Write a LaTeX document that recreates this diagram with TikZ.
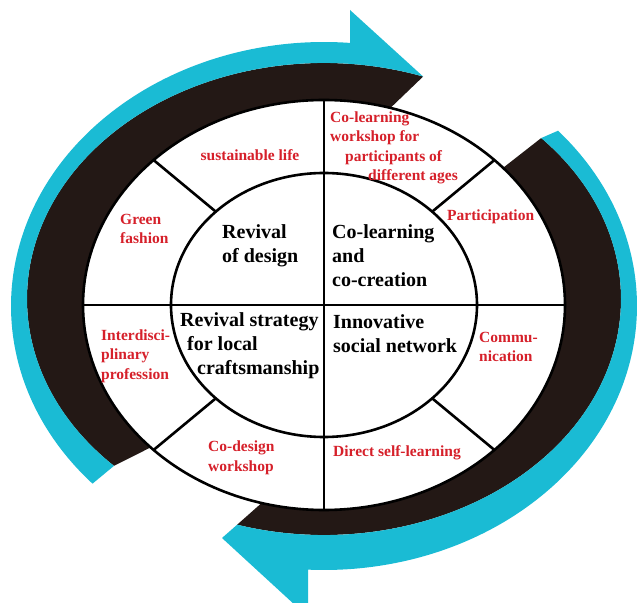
\documentclass[tikz,border=0pt]{standalone}
\usepackage{fontspec}
\setmainfont{Liberation Serif}
\definecolor{bandblack}{RGB}{35,24,21}
\definecolor{bandcyan}{RGB}{26,187,212}
\definecolor{labelred}{RGB}{214,32,42}
\tikzset{
  ring/.style={line width=2.6pt, draw=black},
  spoke/.style={line width=2.6pt, draw=black},
  maintext/.style={font=\bfseries\fontsize{20}{24}\selectfont, align=left, anchor=west, inner sep=0pt, text=black},
  subtext/.style={font=\bfseries\fontsize{15.5}{19.5}\selectfont, align=left, anchor=west, inner sep=0pt, text=labelred},
}
\begin{document}
\begin{tikzpicture}[x=1pt,y=1pt]
\path[use as bounding box] (0,0) rectangle (641,603);
\clip (0,0) rectangle (641,603);

% ---- left arrow: black band and cyan rim with head at the top ----
\fill[bandblack]
  ([shift={(324,298)}]224:241 and 205) -- ([shift={(324,304)}]225:297 and 236)
  arc[start angle=225, end angle=70.5, x radius=297, y radius=236]
  -- ([shift={(324,298)}]74:241 and 205)
  arc[start angle=74, end angle=224, x radius=241, y radius=205] -- cycle;
\fill[bandcyan]
  ([shift={(324,304)}]225:297 and 236) -- ([shift={(324,297)}]222.3:313 and 264)
  arc[start angle=222.3, end angle=85.2, x radius=313, y radius=264]
  -- (350,593) -- ([shift={(324,304)}]70.5:297 and 236)
  arc[start angle=70.5, end angle=225, x radius=297, y radius=236] -- cycle;

% ---- right arrow: black band and cyan rim with head at the bottom ----
\fill[bandblack]
  ([shift={(324,298)}]42:241 and 205) -- ([shift={(324,304)}]43:297 and 236)
  arc[start angle=43, end angle=-107, x radius=297, y radius=236]
  -- ([shift={(324,298)}]-105:241 and 205)
  arc[start angle=-105, end angle=42, x radius=241, y radius=205] -- cycle;
\fill[bandcyan]
  ([shift={(324,304)}]43:297 and 236) -- ([shift={(324,297)}]41.6:313 and 264)
  arc[start angle=41.6, end angle=-92.9, x radius=313, y radius=264]
  -- (308,-14) -- (222,65) -- ([shift={(324,304)}]-107:297 and 236)
  arc[start angle=-107, end angle=43, x radius=297, y radius=236] -- cycle;

% ---- the wheel ----
\draw[ring, fill=white] (324,298) ellipse [x radius=241, y radius=205];

\coordinate (wW) at (83,298);
\coordinate (wE) at (565,298);
\coordinate (wN) at (324,503);
\coordinate (wS) at (324,93);
\foreach \a in {45,135,225,315}{
  \coordinate (w\a) at ([shift={(324,298)}]\a:241 and 205);
  \coordinate (i\a) at ([shift={(324,298)}]\a:153 and 132);
}
\draw[spoke] (wW) -- (wE);
\draw[spoke] (wN) -- (wS);
\foreach \a in {45,135,225,315}{
  \draw[spoke] (i\a) -- (w\a);
}
\draw[ring] (324,298) ellipse [x radius=153, y radius=132];

% ---- inner quadrants ----
\node[maintext] (rev) at (222,357) {Revival\\of design};
\node[maintext] (colearn) at (332,347) {Co-learning\\and\\co-creation};
\node[maintext] (strategy) at (180,257) {Revival strategy\\\hspace*{7pt}for local\\\hspace*{17pt}craftsmanship};
\node[maintext] (network) at (333,269.5) {Innovative\\social network};

% ---- outer segments ----
\node[subtext, anchor=center] (sust) at (250,448) {sustainable life};
\node[subtext] (workshop) at (330,455) {Co-learning\\workshop for\\\hspace*{15pt}participants of\\\hspace*{38pt}different ages};
\node[subtext] (green) at (120,374) {Green\\fashion};
\node[subtext] (particip) at (447,386) {Participation};
\node[subtext] (interd) at (101,247) {Interdisci-\\plinary\\profession};
\node[subtext] (commu) at (479,256) {Commu-\\nication};
\node[subtext] (codesign) at (208,145) {Co-design\\workshop};
\node[subtext] (direct) at (333,150) {Direct self-learning};
\end{tikzpicture}
\end{document}
